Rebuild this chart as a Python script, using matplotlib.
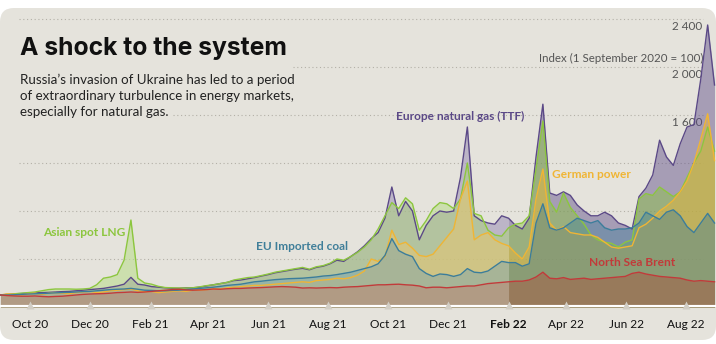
import numpy as np
import pandas as pd
import matplotlib
matplotlib.use('Agg')
import matplotlib.pyplot as plt
from matplotlib.patches import FancyBboxPatch


plt.rcParams['font.family'] = ['Lato', 'DejaVu Sans']

# ------------------------------------------------------------------------
#### weekly index values, 1 September 2020 = 100
dates = pd.date_range('2020-09-01', periods=105, freq='7D')

ttf = [100, 105, 110, 112, 115, 118, 120, 122, 125, 128,
       130, 135, 140, 145, 150, 155, 165, 175, 190, 247,
       190, 183, 170, 165, 160, 156, 156, 160, 160, 165,
       175, 185, 195, 205, 220, 225, 235, 245, 258, 270,
       285, 295, 305, 315, 322, 310, 330, 340, 360, 390,
       380, 420, 460, 510, 570, 620, 740, 1000, 760, 880,
       800, 560, 680, 760, 800, 790, 800, 1080, 1500, 760,
       720, 700, 690, 760, 740, 680, 650, 740, 1250, 1690,
       950, 930, 960, 930, 850, 800, 760, 760, 790, 760,
       700, 680, 650, 920, 990, 1100, 1390, 1250, 1180, 1360,
       1500, 1520, 1900, 2350, 1850]

lng = [100, 105, 110, 115, 120, 125, 135, 145, 150, 150,
       150, 148, 150, 155, 185, 240, 250, 270, 390, 725,
       240, 200, 190, 172, 162, 160, 158, 158, 160, 168,
       178, 185, 195, 205, 225, 235, 245, 250, 262, 275,
       290, 300, 310, 320, 330, 315, 335, 345, 365, 400,
       390, 420, 455, 500, 560, 650, 760, 870, 820, 910,
       860, 640, 720, 820, 870, 860, 820, 900, 1200, 780,
       760, 640, 600, 590, 660, 690, 700, 760, 1150, 1550,
       880, 790, 950, 830, 760, 690, 600, 560, 540, 530,
       500, 540, 560, 900, 945, 930, 1000, 960, 920, 960,
       1080, 1200, 1300, 1500, 1300]

power = [100, 110, 105, 100, 110, 115, 105, 115, 120, 115,
         110, 120, 125, 130, 120, 125, 135, 140, 145, 150,
         135, 125, 130, 120, 125, 130, 135, 130, 140, 140,
         145, 150, 150, 160, 165, 170, 175, 180, 180, 185,
         190, 195, 200, 205, 210, 205, 220, 225, 230, 240,
         235, 245, 265, 300, 400, 380, 420, 640, 520, 540,
         490, 430, 420, 440, 510, 580, 650, 900, 1050, 560,
         600, 620, 560, 530, 510, 450, 400, 500, 900, 1150,
         700, 640, 670, 620, 610, 600, 600, 580, 540, 500,
         490, 500, 510, 660, 690, 740, 800, 840, 890, 960,
         1050, 1200, 1400, 1610, 1220]

coal = [100, 100, 102, 105, 108, 110, 112, 115, 118, 120,
        122, 125, 128, 130, 135, 140, 145, 148, 150, 155,
        148, 140, 138, 135, 135, 138, 140, 145, 150, 155,
        160, 165, 172, 180, 185, 190, 200, 210, 215, 222,
        228, 232, 236, 238, 240, 245, 250, 258, 262, 270,
        280, 290, 305, 320, 335, 360, 430, 570, 470, 440,
        420, 320, 280, 255, 275, 270, 255, 270, 320, 290,
        285, 300, 340, 380, 370, 370, 340, 360, 700, 860,
        660, 640, 660, 700, 740, 720, 700, 720, 660, 640,
        650, 650, 660, 700, 790, 760, 730, 790, 810, 760,
        670, 620, 700, 780, 700]

brent = [100, 95, 92, 90, 90, 92, 88, 85, 88, 90,
         95, 100, 105, 108, 110, 112, 115, 120, 122, 125,
         122, 125, 130, 135, 140, 145, 148, 142, 140, 142,
         145, 150, 148, 152, 155, 155, 158, 160, 162, 165,
         168, 170, 168, 165, 158, 160, 158, 160, 162, 160,
         165, 168, 170, 175, 180, 185, 185, 188, 190, 185,
         182, 175, 160, 165, 165, 160, 165, 170, 175, 175,
         185, 195, 200, 205, 210, 215, 215, 225, 250, 290,
         240, 235, 245, 230, 235, 240, 230, 235, 240, 245,
         250, 255, 280, 290, 275, 265, 255, 250, 245, 240,
         225, 215, 220, 215, 210]

# drawn back to front: name, values, line colour, fill colour, fill alpha
series = [
    ('Europe natural gas (TTF)', ttf, '#5b4987', '#5b4987', 0.45),
    ('Asian spot LNG', lng, '#8cc63e', '#8cc63e', 0.45),
    ('German power', power, '#f0b534', '#f0b534', 0.45),
    ('EU Imported coal', coal, '#3b7d9b', '#3b7d9b', 0.40),
    ('North Sea Brent', brent, '#c23a3a', '#a9553f', 0.48),
]

labels = [
    ('Asian spot LNG', 43, 232, '#8cc63e'),
    ('EU Imported coal', 256, 247, '#3f7e99'),
    ('Europe natural gas (TTF)', 396, 116, '#5b4987'),
    ('German power', 552, 174, '#f0b534'),
    ('North Sea Brent', 589, 263, '#c23a3a'),
]

tick_dates = pd.to_datetime(['2020-10-01', '2020-12-01', '2021-02-01', '2021-04-01',
                             '2021-06-01', '2021-08-01', '2021-10-01', '2021-12-01',
                             '2022-02-01', '2022-04-01', '2022-06-01', '2022-08-01'])
tick_labels = ['Oct 20', 'Dec 20', 'Feb 21', 'Apr 21', 'Jun 21', 'Aug 21',
               'Oct 21', 'Dec 21', 'Feb 22', 'Apr 22', 'Jun 22', 'Aug 22']
invasion = pd.Timestamp('2022-02-01')

grid_vals = [400, 800, 1200, 1600, 2000, 2400]
grid_start = [19, 19, 19, 173, 293, 19]      # pixels, text sits over the rest
right_labels = ['1 600', '2 000', '2 400']

W, H = 716, 344
bg = '#e5e3dc'

fig = plt.figure(figsize=(W / 100, H / 100), dpi=100)
fig.patch.set_facecolor('white')
panel = FancyBboxPatch((0, 4), W, 332, boxstyle='round,pad=0,rounding_size=14',
                       transform=None, facecolor=bg, edgecolor='none', zorder=-5)
fig.patches.append(panel)

# value 0 sits at y=307 px, 48 px per 400
ax = fig.add_axes([0, (H - 307) / H, 1, 299 / H])
ax.set_facecolor('none')
ymax = 299 * 400 / 48
ax.set_ylim(0, ymax)
x0 = dates[0] - pd.Timedelta(hours=12)
ax.set_xlim(x0, dates[-1] + pd.Timedelta(days=1.5))
for s in ax.spines.values():
    s.set_visible(False)
ax.set_yticks([])

for v, xs in zip(grid_vals, grid_start):
    ax.axhline(v, xmin=xs / W, xmax=703 / W, color='#b3b0a7', lw=0.8,
               linestyle=(0, (1, 2.4)), zorder=1)
for v, t in zip([1600, 2000, 2400], right_labels):
    ax.text(702 / W, v - 8 * 400 / 48, t, transform=ax.get_yaxis_transform(),
            ha='right', va='center', fontsize=8.5, color='#555555', zorder=1)
ax.text(703 / W, (307 - 58) * 400 / 48, 'Index (1 September 2020 = 100)',
        transform=ax.get_yaxis_transform(), ha='right', va='center',
        fontsize=8.3, color='#555555', zorder=1)

for name, vals, lc, fc, a in series:
    ax.fill_between(dates, 0, vals, color=fc, alpha=a, lw=0, zorder=2)

# lighter wash over the filled areas before the invasion
top = np.max([s[1] for s in series], axis=0)
before = dates <= invasion
ax.fill_between(dates[before], 0, top[before], color='white', alpha=0.25, lw=0, zorder=3)

for name, vals, lc, fc, a in series:
    ax.plot(dates, vals, color=lc, lw=1.0, zorder=4)

for t, px, py, c in labels:
    ax.text(px / W, (307 - py) * 400 / 48, t, transform=ax.get_yaxis_transform(),
            ha='left', va='center', fontsize=8.6, fontweight='bold', color=c, zorder=6)

# baseline and tick markers
ax.axhline(0, color='white', lw=3, zorder=5)
ax.plot(tick_dates, [20] * len(tick_dates), linestyle='none', marker='^', ms=5.5,
        color='#d2cec5', mec='none', clip_on=False, zorder=6)

ax.set_xticks(tick_dates)
ax.set_xticklabels(tick_labels)
ax.tick_params(axis='x', length=0, pad=9, labelsize=8.6, colors='#111111')
for lab in ax.get_xticklabels():
    if lab.get_text() == 'Feb 22':
        lab.set_fontweight('bold')

fig.text(20 / W, 1 - 48 / H, 'A shock to the system', fontsize=17.8, fontweight='bold',
         family=['Inter', 'DejaVu Sans'], color='#111111', ha='left', va='center')
fig.text(20 / W, 1 - 96 / H,
         'Russia\u2019s invasion of Ukraine has led to a period\n'
         'of extraordinary turbulence in energy markets,\n'
         'especially for natural gas.',
         fontsize=9.6, color='#222222', ha='left', va='center', linespacing=1.4)

plt.savefig('out.png', dpi=100, facecolor=fig.get_facecolor())
